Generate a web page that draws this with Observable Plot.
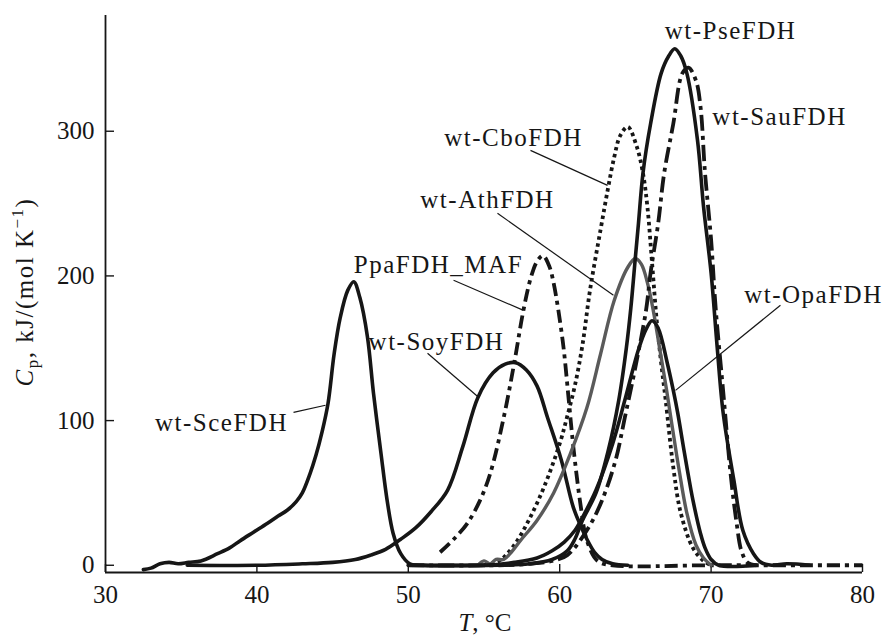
<!DOCTYPE html>
<html><head><meta charset="utf-8">
<script src="https://cdn.jsdelivr.net/npm/d3@7"></script>
<script src="https://cdn.jsdelivr.net/npm/@observablehq/plot@0.6"></script>
<style>
html,body{margin:0;padding:0;background:#fff;}
#chart svg{display:block;}
#chart svg g[aria-label="text"] text{letter-spacing:1.5px;}
</style></head><body><div id="chart"></div>
<script>
const xTicks = [30, 40, 50, 60, 70, 80];
const yTicks = [0, 100, 200, 300];

const sceT = [32.5,33.0,33.6,34.2,34.8,35.5,36.3,37.4,38.2,38.9,39.8,40.7,41.4,42.0,42.6,43.0,43.5,43.9,44.3,44.7,45.1,45.5,46.0,46.4,46.8,47.3,47.7,48.2,48.6,49.0,49.5,50.1,51.0,53.0,56.0];
const sceCp = [-3,-2,1,2,1,2,3,8,12,17,23,29,34,38,44,50,63,76,92,112,146,171,190,196,185,158,119,77,45,22,8,1,0,0,0];

const soyT = [35.4,40.0,43.0,45.0,46.5,47.5,48.5,49.5,50.5,51.5,52.6,53.6,54.6,55.6,56.4,57.1,57.8,58.5,59.2,60.1,60.9,61.4,61.8,62.3,62.8,63.5,64.5];
const soyCp = [0,0,1,2,4,7,11,18,26,37,52,82,116,133,139,140,135,124,102,73,40,27,18,9,4,1,0];

const ppaT = [52.1,53.0,53.9,54.7,55.4,56.3,57.0,57.6,58.1,58.5,58.9,59.3,59.6,60.2,60.6,60.9,61.4,61.8,62.5,63.5,70.0,80.0];
const ppaCp = [9,18,29,44,63,102,140,176,199,210,214,207,195,155,114,82,40,17,3,0,0,0];

const cboT = [55.0,56.0,57.0,58.0,59.0,60.0,60.5,61.0,61.5,62.0,62.7,63.2,63.6,64.0,64.5,65.1,65.5,65.8,66.1,66.4,66.7,67.0,67.5,68.0,68.8,69.5,70.0];
const cboCp = [0,3,14,32,55,84,103,124,152,190,232,261,282,297,303,289,271,247,209,170,140,114,68,36,12,3,0];

const athT = [54.6,55.0,55.4,55.8,56.3,56.8,57.4,58.5,59.6,60.7,61.8,62.7,63.6,64.5,65.0,65.4,65.8,66.2,66.6,67.0,67.4,67.9,68.4,69.0,69.5,70.0];
const athCp = [0,3,1,4,4,9,17,31,50,77,109,146,183,206,212,208,195,175,150,125,98,65,36,14,5,0];

const opaT = [50.0,55.0,57.0,58.5,59.5,60.3,61.0,61.5,62.4,63.5,64.3,65.2,65.7,66.1,66.5,67.1,67.5,67.8,68.2,68.5,68.8,69.3,69.6,70.0,70.5,73.0];
const opaCp = [0,0,2,5,10,16,24,33,52,84,114,149,163,169,164,140,121,105,80,62,45,22,12,4,0,0];

const pseT = [50.0,56.0,58.0,59.5,60.5,61.0,61.5,62.4,63.2,63.9,64.4,64.7,65.0,65.2,65.5,66.0,66.7,67.2,67.6,68.0,68.4,69.1,69.5,70.0,70.4,70.8,71.5,72.1,72.8,73.3,74.0,75.0,76.5];
const pseCp = [0,0,1,4,10,18,31,50,79,114,150,178,213,236,271,305,340,352,357,352,340,294,248,202,151,105,59,24,8,2,0,1,0];

const sauT = [50.0,56.0,58.0,59.5,60.5,61.9,62.8,63.7,64.3,65.0,65.7,66.0,66.5,66.9,67.5,68.1,68.5,69.0,69.3,69.6,70.0,70.3,70.8,71.3,71.7,72.0,72.4,73.0];
const sauCp = [0,0,1,3,7,26,45,73,102,137,176,202,236,271,305,340,344,335,317,271,225,178,120,62,28,10,2,0];

const labelText = ["wt-PseFDH","wt-SauFDH","wt-CboFDH","wt-AthFDH","PpaFDH_MAF","wt-SoyFDH","wt-SceFDH","wt-OpaFDH"];
const labelT = [71.28,74.52,56.95,55.23,51.99,51.86,37.66,76.76];
const labelCp = [369,309.6,295.1,252.2,207.3,154.1,98.1,186.6];

const leaderFromT = [42.42,51.27,52.99,55.89,58.07,74.58];
const leaderFromCp = [105.7,146.5,197.0,243.3,286.8,179.7];
const leaderToT = [44.53,54.64,57.61,63.55,63.16,67.65];
const leaderToCp = [110.6,116.1,176.2,186.6,262.6,120.9];

const rows = (T, Cp) => T.map((t, i) => ({T: t, Cp: Cp[i]}));
const labels = labelText.map((s, i) => ({s, T: labelT[i], Cp: labelCp[i]}));
const leaders = leaderFromT.map((t, i) => ({x1: t, y1: leaderFromCp[i], x2: leaderToT[i], y2: leaderToCp[i]}));

const W = 886, H = 635, mL = 105, mR = 24, mT = 15, mB = 63;
const innerW = W - mL - mR, innerH = H - mT - mB;
const ink = "#161616";
const solid = {x: "T", y: "Cp", stroke: ink, strokeWidth: 3.6, curve: "catmull-rom"};

const plot = Plot.plot({
  width: W, height: H,
  marginLeft: mL, marginRight: mR, marginTop: mT, marginBottom: mB,
  x: {domain: [30, 80]},
  y: {domain: [-5, 380]},
  style: {fontFamily: "'Liberation Serif', 'Times New Roman', serif", fontSize: "25px", background: "#fff", color: ink},
  marks: [
    Plot.axisX(xTicks, {tickSize: 0, tickPadding: 13, fontSize: 25, label: null}),
    Plot.axisY(yTicks, {tickSize: 0, tickPadding: 11, fontSize: 25, label: null}),
    Plot.ruleX(xTicks, {stroke: ink, strokeWidth: 1.4, insetTop: innerH - 8}),
    Plot.ruleY(yTicks, {stroke: ink, strokeWidth: 1.4, insetRight: innerW - 9}),
    Plot.ruleX([30], {stroke: ink, strokeWidth: 1.8}),
    Plot.ruleY([-5], {stroke: ink, strokeWidth: 1.8}),
    Plot.line(rows(sceT, sceCp), solid),
    Plot.line(rows(soyT, soyCp), solid),
    Plot.line(rows(ppaT, ppaCp), {...solid, strokeWidth: 3.8, strokeDasharray: "13,5,4,5", strokeLinecap: "butt"}),
    Plot.line(rows(cboT, cboCp), {...solid, strokeWidth: 3.8, strokeDasharray: "3.5,3.5", strokeLinecap: "butt"}),
    Plot.line(rows(athT, athCp), {...solid, stroke: "#5a5a5a", strokeWidth: 3.4}),
    Plot.line(rows(opaT, opaCp), solid),
    Plot.line(rows(pseT, pseCp), solid),
    Plot.line(rows(sauT, sauCp), {...solid, strokeWidth: 3.8, strokeDasharray: "16,5,4,5", strokeLinecap: "butt"}),
    Plot.link(leaders, {x1: "x1", y1: "y1", x2: "x2", y2: "y2", stroke: ink, strokeWidth: 1.2}),
    Plot.text(labels, {x: "T", y: "Cp", text: "s", fontSize: 25, fill: ink})
  ]
});

const svg = d3.select(plot);
const yl = svg.append("text")
  .attr("transform", "translate(33,292) rotate(-90)")
  .attr("text-anchor", "middle")
  .attr("font-size", 25)
  .attr("fill", ink)
  .style("letter-spacing", "1.5px");
yl.append("tspan").attr("font-style", "italic").text("C");
yl.append("tspan").attr("font-size", 17).attr("dy", 5).text("p");
yl.append("tspan").attr("dy", -5).text(", kJ/(mol K");
yl.append("tspan").attr("font-size", 17).attr("dy", -10).text("\u22121");
yl.append("tspan").attr("dy", 10).text(")");

const xl = svg.append("text")
  .attr("x", 485).attr("y", 631)
  .attr("text-anchor", "middle")
  .attr("font-size", 25)
  .attr("fill", ink);
xl.append("tspan").attr("font-style", "italic").text("T");
xl.append("tspan").text(", \u00B0C");

document.getElementById("chart").appendChild(plot);
</script>
</body></html>
